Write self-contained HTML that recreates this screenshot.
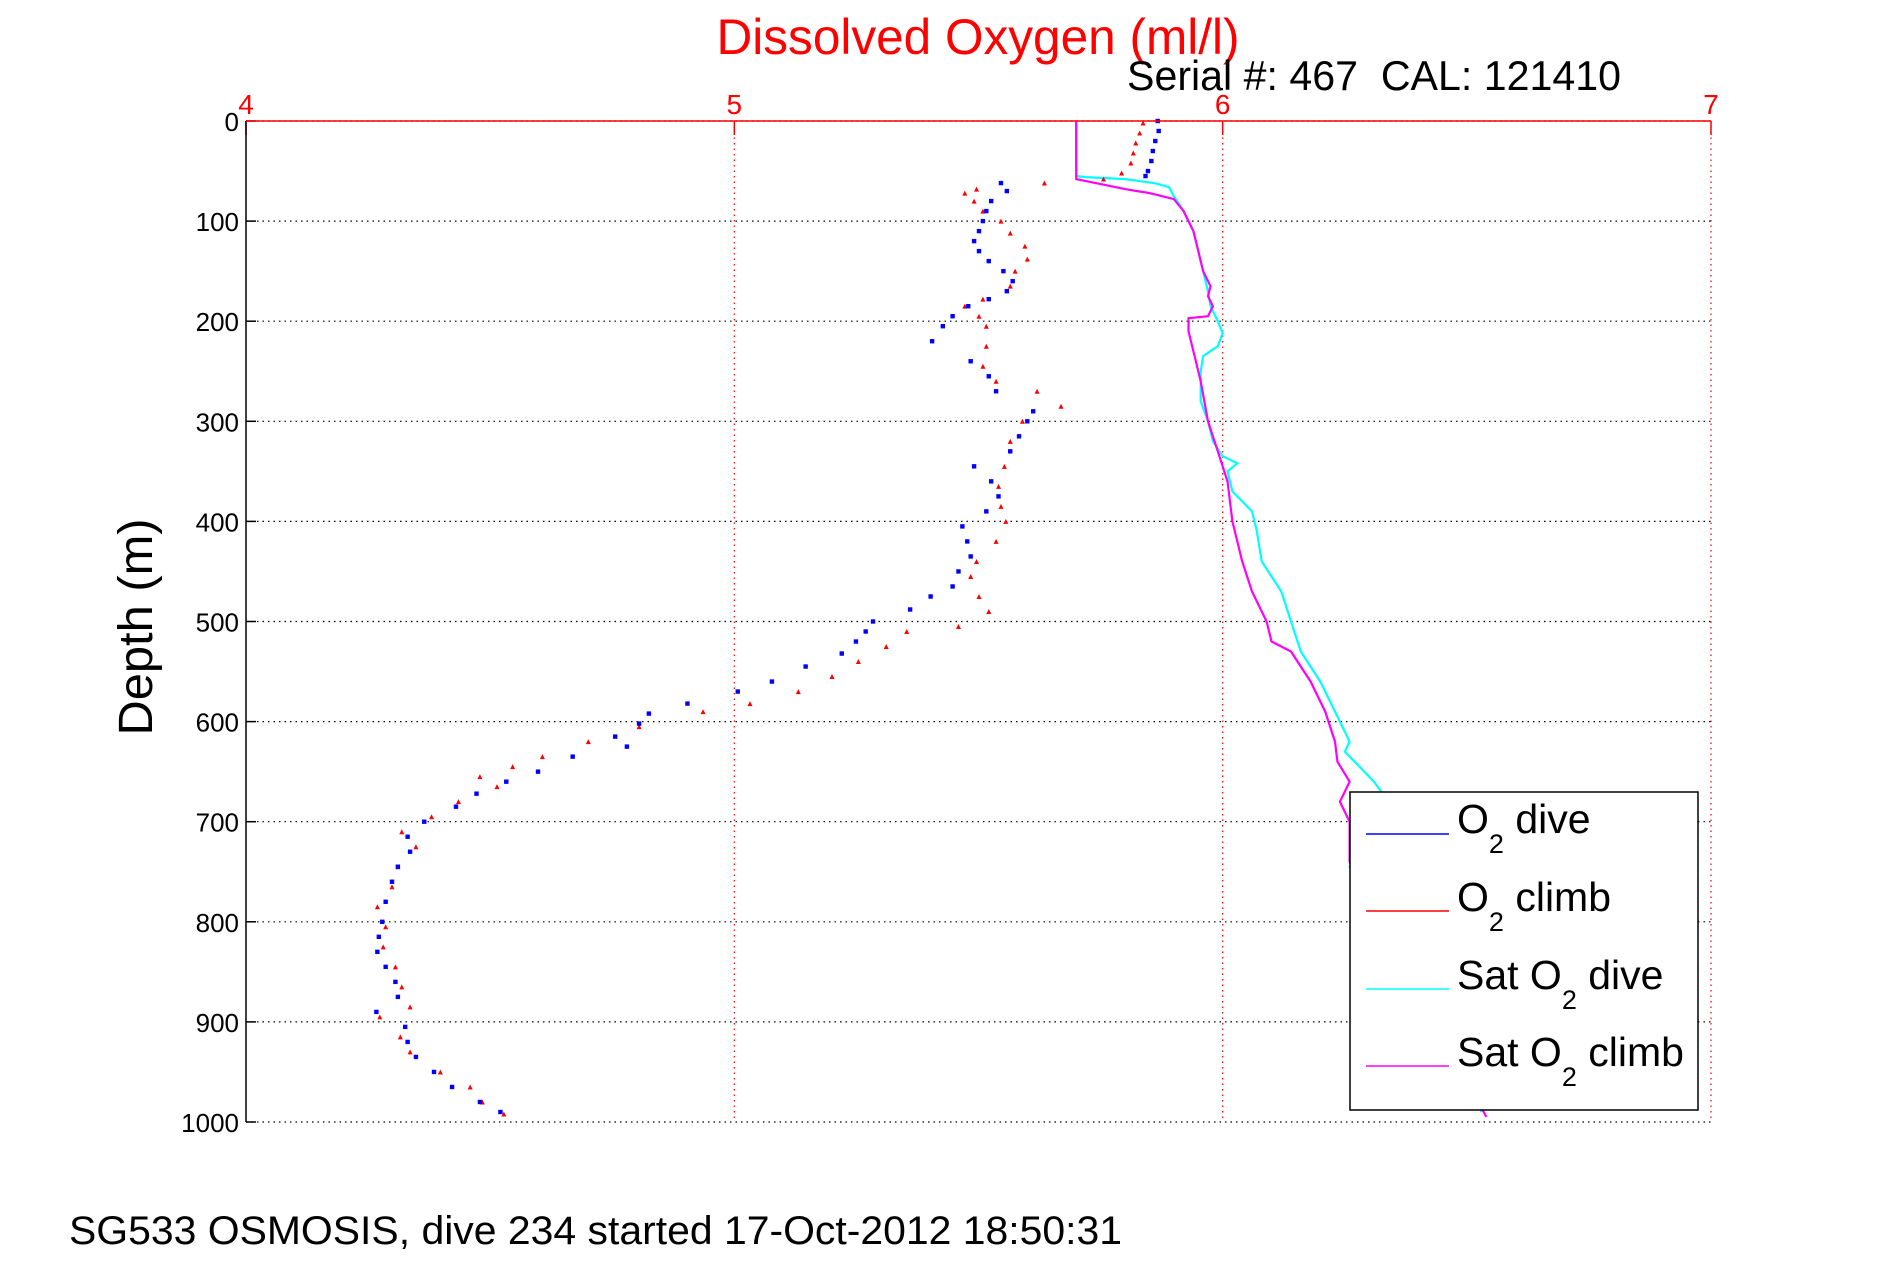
<!DOCTYPE html>
<html><head><meta charset="utf-8"><title>Dissolved Oxygen</title>
<style>html,body{margin:0;padding:0;background:#fff;}svg{display:block;font-family:"Liberation Sans",Arial,sans-serif;}</style>
</head><body>
<svg id="chart" width="1891" height="1262" viewBox="0 0 1891 1262" xmlns="http://www.w3.org/2000/svg">
<rect x="0" y="0" width="1891" height="1262" fill="#fff"/>
<g id="grid"></g>
<g id="series"></g>
<g id="axes"></g>
<text x="978" y="54" font-size="50" fill="#ff0000" text-anchor="middle" textLength="523" lengthAdjust="spacingAndGlyphs">Dissolved Oxygen (ml/l)</text>
<text x="1127" y="90" font-size="42" fill="#000" textLength="494" lengthAdjust="spacingAndGlyphs">Serial #: 467&#160; CAL: 121410</text>
<text transform="translate(152,627) rotate(-90)" font-size="48" fill="#000" text-anchor="middle" textLength="217" lengthAdjust="spacingAndGlyphs">Depth (m)</text>
<text x="69" y="1244" font-size="40" fill="#000" textLength="1053" lengthAdjust="spacingAndGlyphs">SG533 OSMOSIS, dive 234 started 17-Oct-2012 18:50:31</text>
<g id="legend">
<rect x="1350" y="792" width="348" height="318" fill="#fff" stroke="#000" stroke-width="1.5"/>
<g>
<line x1="1366" y1="834" x2="1449" y2="834" stroke="#0000ff" stroke-width="1.5"/>
<text x="1457" y="833" font-size="41" fill="#000">O<tspan font-size="27" dy="20">2</tspan><tspan dy="-20"> dive</tspan></text></g>
<g>
<line x1="1366" y1="911" x2="1449" y2="911" stroke="#ff0000" stroke-width="1.5"/>
<text x="1457" y="911" font-size="41" fill="#000">O<tspan font-size="27" dy="20">2</tspan><tspan dy="-20"> climb</tspan></text></g>
<g>
<line x1="1366" y1="989" x2="1449" y2="989" stroke="#00ffff" stroke-width="1.5"/>
<text x="1457" y="989" font-size="41" fill="#000">Sat O<tspan font-size="27" dy="20">2</tspan><tspan dy="-20"> dive</tspan></text></g>
<g>
<line x1="1366" y1="1066" x2="1449" y2="1066" stroke="#ff00ff" stroke-width="1.5"/>
<text x="1457" y="1066" font-size="41" fill="#000">Sat O<tspan font-size="27" dy="20">2</tspan><tspan dy="-20"> climb</tspan></text></g>
</g>
</svg>
<script>
const xTicks = [4, 5, 6, 7];
const yTicks = [0, 100, 200, 300, 400, 500, 600, 700, 800, 900, 1000];
const diveDepth = [0,10,20,30,40,50,55,62,70,80,90,100,110,120,130,140,150,160,170,178,185,195,205,220,240,255,270,290,300,315,330,345,360,375,390,405,420,435,450,465,475,488,500,510,520,532,545,560,570,582,592,602,615,625,635,650,660,672,685,700,715,730,745,760,780,800,815,830,845,860,875,890,905,920,935,950,965,980,990];
const diveO2 = [5.867,5.869,5.862,5.857,5.854,5.847,5.842,5.546,5.558,5.526,5.516,5.509,5.501,5.491,5.501,5.521,5.551,5.570,5.558,5.521,5.479,5.447,5.427,5.405,5.484,5.521,5.536,5.612,5.600,5.583,5.565,5.491,5.526,5.541,5.516,5.467,5.477,5.484,5.459,5.447,5.402,5.360,5.284,5.269,5.249,5.220,5.146,5.077,5.007,4.904,4.825,4.805,4.756,4.780,4.669,4.598,4.533,4.472,4.430,4.365,4.331,4.336,4.311,4.299,4.286,4.279,4.272,4.269,4.286,4.306,4.311,4.267,4.326,4.331,4.348,4.385,4.422,4.479,4.521];
const climbDepth = [2,12,22,32,42,52,58,62,68,72,80,90,100,112,125,138,150,165,178,185,195,205,225,245,260,270,285,300,320,345,365,385,400,420,440,455,475,490,505,510,525,540,555,570,582,590,605,620,635,645,655,665,680,695,710,725,745,765,785,805,825,845,865,885,895,915,930,950,965,980,992];
const climbO2 = [5.837,5.830,5.822,5.817,5.812,5.793,5.756,5.635,5.496,5.472,5.491,5.509,5.546,5.565,5.595,5.600,5.575,5.565,5.509,5.472,5.501,5.516,5.516,5.509,5.536,5.620,5.669,5.590,5.565,5.553,5.541,5.546,5.556,5.536,5.496,5.484,5.501,5.521,5.459,5.353,5.311,5.254,5.200,5.131,5.032,4.936,4.805,4.701,4.607,4.546,4.479,4.514,4.435,4.380,4.319,4.348,4.311,4.299,4.269,4.286,4.281,4.306,4.319,4.336,4.274,4.316,4.336,4.398,4.459,4.484,4.528];
const satDiveDepth = [0,55,56,58,62,66,75,90,110,130,150,170,185,200,212,225,235,250,280,300,320,335,342,350,370,390,410,440,470,500,530,560,580,600,620,630,645,660,680,700,720,745,760,800,850,900,950,990];
const satDiveO2 = [5.70,5.70,5.72,5.80,5.86,5.89,5.90,5.92,5.94,5.95,5.96,5.97,5.975,5.99,6.00,5.99,5.96,5.955,5.955,5.97,5.98,6.00,6.03,6.01,6.02,6.06,6.07,6.08,6.12,6.14,6.16,6.20,6.22,6.24,6.26,6.25,6.28,6.31,6.34,6.36,6.30,6.26,6.27,6.33,6.40,6.45,6.50,6.53];
const satClimbDepth = [0,58,62,68,72,78,90,110,130,150,165,175,185,195,197,210,230,260,300,330,360,400,440,470,500,520,530,560,590,620,640,660,680,700,740,800,850,900,950,995];
const satClimbO2 = [5.70,5.70,5.74,5.80,5.85,5.90,5.92,5.94,5.95,5.96,5.975,5.97,5.98,5.97,5.93,5.93,5.94,5.955,5.97,5.99,6.01,6.02,6.04,6.06,6.09,6.10,6.14,6.18,6.21,6.23,6.235,6.26,6.24,6.26,6.26,6.30,6.37,6.43,6.49,6.54];

const NS = "http://www.w3.org/2000/svg";
const L = 246, R = 1711, T = 121, B = 1122;
function xs(v){ return L + (v - 4) / 3 * (R - L); }
function ys(d){ return T + d / 1000 * (B - T); }
function mk(tag, attrs, parent){ const e = document.createElementNS(NS, tag); for (const k in attrs) e.setAttribute(k, attrs[k]); parent.appendChild(e); return e; }

const grid = document.getElementById('grid');
const axes = document.getElementById('axes');
const series = document.getElementById('series');

yTicks.forEach(function(d){
  const gl = mk('line', {x1: L, x2: R, y1: ys(d), y2: ys(d), stroke: '#000', 'stroke-width': 1.2, 'stroke-dasharray': '1.5 4'}, grid);
  
  
  const tk = mk('line', {x1: L, x2: L + 10, y1: ys(d), y2: ys(d), stroke: '#000', 'stroke-width': 1.5}, axes);
  
  
  const lb = mk('text', {x: L - 7, y: ys(d) + 10, 'font-size': 26, 'text-anchor': 'end', fill: '#000'}, axes);
  lb.textContent = d;
  
  
});
xTicks.forEach(function(v){
  if (v > 4) {
    const gl = mk('line', {x1: xs(v), x2: xs(v), y1: T, y2: B, stroke: '#ff0000', 'stroke-width': 1.2, 'stroke-dasharray': '1.5 4'}, grid);
    
    
  }
  const tk = mk('line', {x1: xs(v), x2: xs(v), y1: T, y2: T + 14, stroke: '#ff0000', 'stroke-width': 1.5}, axes);
  
  
  const lb = mk('text', {x: xs(v), y: T - 7, 'font-size': 28, 'text-anchor': 'middle', fill: '#ff0000'}, axes);
  lb.textContent = v;
  
  
});
const la = mk('line', {x1: L, x2: L, y1: T, y2: B, stroke: '#000', 'stroke-width': 1.5}, axes);


const ta = mk('line', {x1: L, x2: R, y1: T, y2: T, stroke: '#ff0000', 'stroke-width': 1.5}, axes);



function drawLine(vals, depths, color, name){
  let d = '';
  for (let i = 0; i < vals.length; i++) d += (i ? 'L' : 'M') + xs(vals[i]).toFixed(1) + ' ' + ys(depths[i]).toFixed(1);
  const p = mk('path', {d: d, fill: 'none', stroke: color, 'stroke-width': 2.2}, series);
  
  
}
drawLine(satDiveO2, satDiveDepth, '#00ffff', 'sat-o2-dive-line');
drawLine(satClimbO2, satClimbDepth, '#ff00ff', 'sat-o2-climb-line');

function drawDots(vals, depths, color, name, tri){
  const g = mk('g', {}, series);
  
  
  for (let i = 0; i < vals.length; i++) {
    const x = xs(vals[i]), y = ys(depths[i]);
    let m;
    if (tri) m = mk('path', {d: 'M' + (x - 2.5) + ' ' + (y + 2.5) + 'L' + (x + 2.5) + ' ' + (y + 2.5) + 'L' + x + ' ' + (y - 2.5) + 'Z', fill: color}, g);
    else m = mk('rect', {x: x - 2.2, y: y - 2.2, width: 4.4, height: 4.4, fill: color}, g);
    
    
  }
}
drawDots(climbO2, climbDepth, '#ff0000', 'o2-climb-points', true);
drawDots(diveO2, diveDepth, '#0000ff', 'o2-dive-points', false);
document.getElementById('chart').appendChild(document.getElementById('legend'));
</script>
</body></html>
